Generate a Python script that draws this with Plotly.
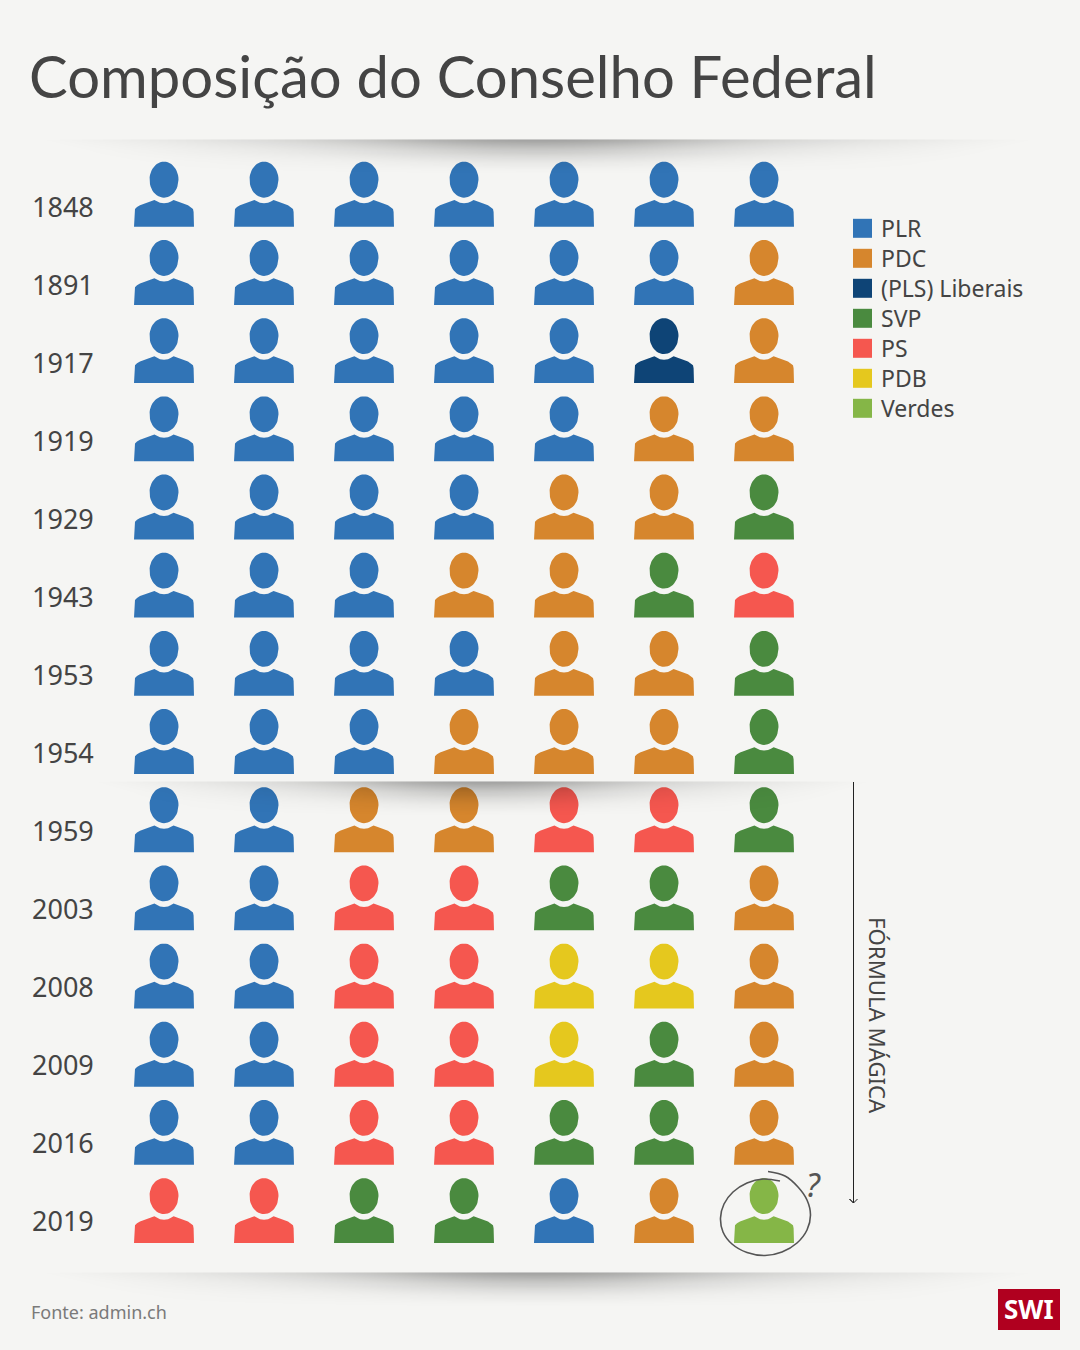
import numpy as np
import plotly.graph_objects as go

years = ["1848","1891","1917","1919","1929","1943","1953","1954","1959","2003","2008","2009","2016","2019"]
seats = [
    ["PLR","PLR","PLR","PLR","PLR","PLR","PLR"],
    ["PLR","PLR","PLR","PLR","PLR","PLR","PDC"],
    ["PLR","PLR","PLR","PLR","PLR","PLS","PDC"],
    ["PLR","PLR","PLR","PLR","PLR","PDC","PDC"],
    ["PLR","PLR","PLR","PLR","PDC","PDC","SVP"],
    ["PLR","PLR","PLR","PDC","PDC","SVP","PS"],
    ["PLR","PLR","PLR","PLR","PDC","PDC","SVP"],
    ["PLR","PLR","PLR","PDC","PDC","PDC","SVP"],
    ["PLR","PLR","PDC","PDC","PS","PS","SVP"],
    ["PLR","PLR","PS","PS","SVP","SVP","PDC"],
    ["PLR","PLR","PS","PS","PDB","PDB","PDC"],
    ["PLR","PLR","PS","PS","PDB","SVP","PDC"],
    ["PLR","PLR","PS","PS","SVP","SVP","PDC"],
    ["PS","PS","SVP","SVP","PLR","PDC","Verdes"],
]
parties = ["PLR","PDC","PLS","SVP","PS","PDB","Verdes"]
party_labels = ["PLR","PDC","(PLS) Liberais","SVP","PS","PDB","Verdes"]
party_colors = ["#3174B6","#D6862D","#0E4476","#4A8A3F","#F5574F","#E5C81E","#85B647"]

BG = "#F5F5F3"
INK = "#444444"
FONT = "Noto Sans"
W, H = 1080, 1350
COL_X0, COL_DX = 164.0, 100.0
ROW_Y0, ROW_DY = 207.0, 78.18

x_range = [(0 - COL_X0) / COL_DX, (W - COL_X0) / COL_DX]
y_range = [(H - ROW_Y0) / ROW_DY, (0 - ROW_Y0) / ROW_DY]

def dx(px):
    return (np.asarray(px, float) - COL_X0) / COL_DX

def dy(py):
    return (np.asarray(py, float) - ROW_Y0) / ROW_DY

def paper_x(px):
    return px / W

def paper_y(py):
    return 1 - py / H

# icon outline, in pixels relative to the seat centre
t = np.linspace(0, 2 * np.pi, 49)
head_x = 14.5 * np.cos(t)
head_y = -27.3 + 18.0 * np.sin(t)
body_pts = [(-30, 19.7), (-29.6, 5), (-29, 2), (-27, 0), (-24, -1.8), (-9.6, -7), (-7, -5.6), (-4, -4.2), (0, -3.7),
            (4, -4.2), (7, -5.6), (9.6, -7), (24, -1.8), (27, 0), (29, 2), (29.6, 5), (30, 19.7), (-30, 19.7)]
body_x = np.array([p[0] for p in body_pts])
body_y = np.array([p[1] for p in body_pts])

fig = go.Figure()

for name, color in zip(parties, party_colors):
    xs, ys = [], []
    for r, row in enumerate(seats):
        for c, seat in enumerate(row):
            if seat == name:
                xs += list(c + head_x / COL_DX) + [None] + list(c + body_x / COL_DX) + [None]
                ys += list(r + head_y / ROW_DY) + [None] + list(r + body_y / ROW_DY) + [None]
    fig.add_trace(go.Scatter(x=xs, y=ys, mode="lines", fill="toself", fillcolor=color,
                             line=dict(width=0, color=color), name=name, hoverinfo="name", showlegend=False))

# legend swatches
LEG_X, LEG_Y0, LEG_DY = 862.5, 228.3, 30.0
fig.add_trace(go.Scatter(
    x=[float(dx(LEG_X))] * len(parties),
    y=[float(dy(LEG_Y0 + i * LEG_DY)) for i in range(len(parties))],
    mode="markers", marker=dict(symbol="square", size=19, color=party_colors, line=dict(width=0)),
    hoverinfo="skip", showlegend=False, cliponaxis=False))

# hand-drawn ring and the arrow
ring_px = [(768,1171.5),(785,1176),(798,1187),(807,1200),(810.5,1215),(807,1230),(797,1243),(782,1252),(765,1255.5),
           (747,1252.5),(732,1244),(723,1232),(720.5,1218),(724,1204),(733,1192),(747,1183),(763,1179),(780,1181)]
fig.add_trace(go.Scatter(x=dx([p[0] for p in ring_px]), y=dy([p[1] for p in ring_px]), mode="lines",
                         line=dict(color="#555555", width=1.6, shape="spline", smoothing=1),
                         hoverinfo="skip", showlegend=False))
arrow_px = [(853.5,782),(853.5,1203),(849.5,1199),(853.5,1203),(857.5,1199)]
fig.add_trace(go.Scatter(x=dx([p[0] for p in arrow_px]), y=dy([p[1] for p in arrow_px]), mode="lines",
                         line=dict(color="#222222", width=1), hoverinfo="skip", showlegend=False))

# soft dividers on an overlay subplot, so they fall over the icons
def shadow(x0, x1, top, depth, peak):
    gx = np.linspace(x0, x1, 160)
    gy = np.linspace(top, top + depth, 34)
    xc = (x0 + x1) / 2
    half = (x1 - x0) / 2
    z = np.zeros((gy.size, gx.size))
    for i, yy in enumerate(gy):
        v = (yy - top) / depth
        width = half * (1 - 0.25 * v)
        u = np.clip(np.abs(gx - xc) / width, 0, 1)
        c = np.cos(u * np.pi / 2)
        z[i] = peak * (0.55 * c ** 7 + 0.45 * c ** 1.2) * (1 - v) ** 1.9
    return go.Heatmap(x=dx(gx), y=dy(gy), z=z, xaxis="x2", yaxis="y2", zmin=0, zmax=1, zsmooth="best",
                      colorscale=[[0, "rgba(0,0,0,0)"], [1, "rgba(0,0,0,1)"]], showscale=False, hoverinfo="skip")

fig.add_trace(shadow(38, 1037, 140, 36, 0.33))
fig.add_trace(shadow(92, 872, 782, 36, 0.33))
fig.add_trace(shadow(38, 1037, 1273, 36, 0.33))

# SWI mark
shapes = [dict(type="rect", xref="paper", yref="paper", x0=paper_x(998), x1=paper_x(1060), y0=paper_y(1330), y1=paper_y(1289),
               fillcolor="#B0001F", line=dict(width=0), layer="above")]

def note(text, px, py, size, color=INK, anchor="left", family=FONT, fontkw=None, **kw):
    return dict(text=text, x=paper_x(px), y=paper_y(py), xref="paper", yref="paper", xanchor=anchor, yanchor="middle",
                showarrow=False, font=dict(family=family, size=size, color=color, **(fontkw or {})), **kw)

annotations = [
    note("Composição do Conselho Federal", 27, 75, 58, family="Lato"),
    note("Fonte: admin.ch", 29, 1312, 18, color="#7A7A7A"),
    note("<b>SWI</b>", 1029, 1309, 26, color="#FFFFFF", anchor="center"),
    note("?", 813, 1184, 32, color="#555555", anchor="center", fontkw=dict(style="italic")),
    note("FÓRMULA MÁGICA", 878, 1015, 22.2, anchor="center", textangle=90),
]
for i, label in enumerate(party_labels):
    annotations.append(note(label, 878.5, LEG_Y0 - 0.7 + i * LEG_DY, 23))

# year labels sit on a slightly tighter step than the icons
LABEL_FIRST, LABEL_STEP = 208.0, 78.0
tick_positions = [float(dy(LABEL_FIRST + i * LABEL_STEP)) for i in range(len(years))]

fig.update_layout(
    width=W, height=H, autosize=False,
    margin=dict(l=0, r=0, t=0, b=0, pad=0),
    paper_bgcolor=BG, plot_bgcolor=BG, showlegend=False,
    font=dict(family=FONT, color=INK),
    xaxis=dict(range=x_range, visible=False, fixedrange=True),
    yaxis=dict(range=y_range, tickmode="array", tickvals=tick_positions, ticktext=years,
               ticklabelposition="inside", ticklabelstandoff=29,
               tickfont=dict(family=FONT, size=27, color=INK), ticks="", showgrid=False, zeroline=False,
               showline=False, fixedrange=True, automargin=False),
    xaxis2=dict(range=x_range, overlaying="x", visible=False, fixedrange=True),
    yaxis2=dict(range=y_range, overlaying="y", visible=False, fixedrange=True),
    shapes=shapes, annotations=annotations,
)
fig.write_html("out.html", config=dict(displayModeBar=False),
               post_script="document.body.style.margin='0';document.body.style.background='#F5F5F3';")
